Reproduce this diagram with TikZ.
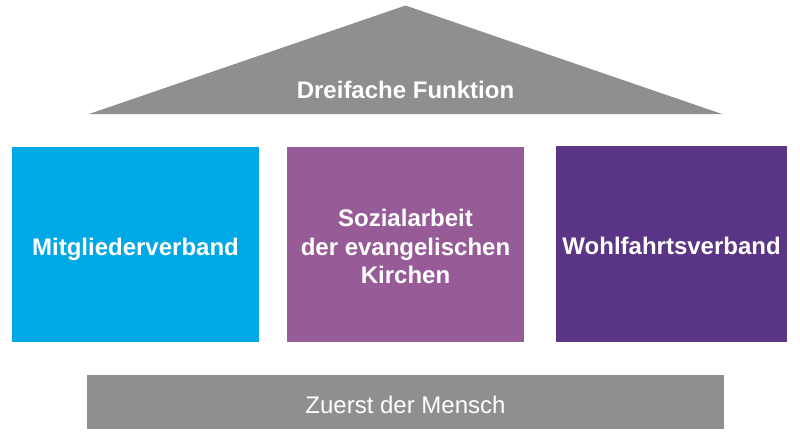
\documentclass[tikz,border=0pt]{standalone}
\usepackage{fontspec}
\setmainfont{Liberation Sans}
\definecolor{roofgrey}{RGB}{143,143,143}
\definecolor{cblue}{RGB}{0,169,230}
\definecolor{cpurple}{RGB}{151,92,152}
\definecolor{cdark}{RGB}{91,53,133}
\tikzset{
  pillar/.style={draw=none, inner sep=0pt, outer sep=0pt, rectangle},
  lbl/.style={text=white, font=\fontsize{24}{28.5}\selectfont\bfseries, inner sep=0pt, align=center},
  lblreg/.style={text=white, font=\fontsize{24}{28.5}\selectfont, inner sep=0pt}
}
\begin{document}
\begin{tikzpicture}[x=1pt,y=-1pt]
\useasboundingbox (0,0) rectangle (800,445);
% roof
\fill[roofgrey] (89,114) -- (405.5,5.5) -- (722,114) -- cycle;
\node[lbl, anchor=base] (roof) at (405.5,98) {Dreifache Funktion};
% pillars
\node[pillar, fill=cblue, minimum width=246.3pt, minimum height=195.6pt] (b1) at (135.5,244.5) {};
\node[pillar, fill=cpurple, minimum width=237.6pt, minimum height=195.6pt] (b2) at (405.5,244.5) {};
\node[pillar, fill=cdark, minimum width=230.7pt, minimum height=195.7pt] (b3) at (671.6,243.85) {};
\node[lbl, anchor=base] (t1) at (135.5,255) {Mitgliederverband};
\node[lbl, anchor=base] (t2a) at (405.5,226.7) {Sozialarbeit};
\node[lbl, anchor=base] (t2b) at (405.5,255.2) {der evangelischen};
\node[lbl, anchor=base] (t2c) at (405.5,283.5) {Kirchen};
\node[lbl, anchor=base] (t3) at (671.6,254.3) {Wohlfahrtsverband};
% base
\node[pillar, fill=roofgrey, minimum width=636.4pt, minimum height=54.3pt] (base) at (405.5,402.15) {};
\node[lblreg, anchor=base] (tb) at (405.5,413.3) {Zuerst der Mensch};
\end{tikzpicture}
\end{document}
